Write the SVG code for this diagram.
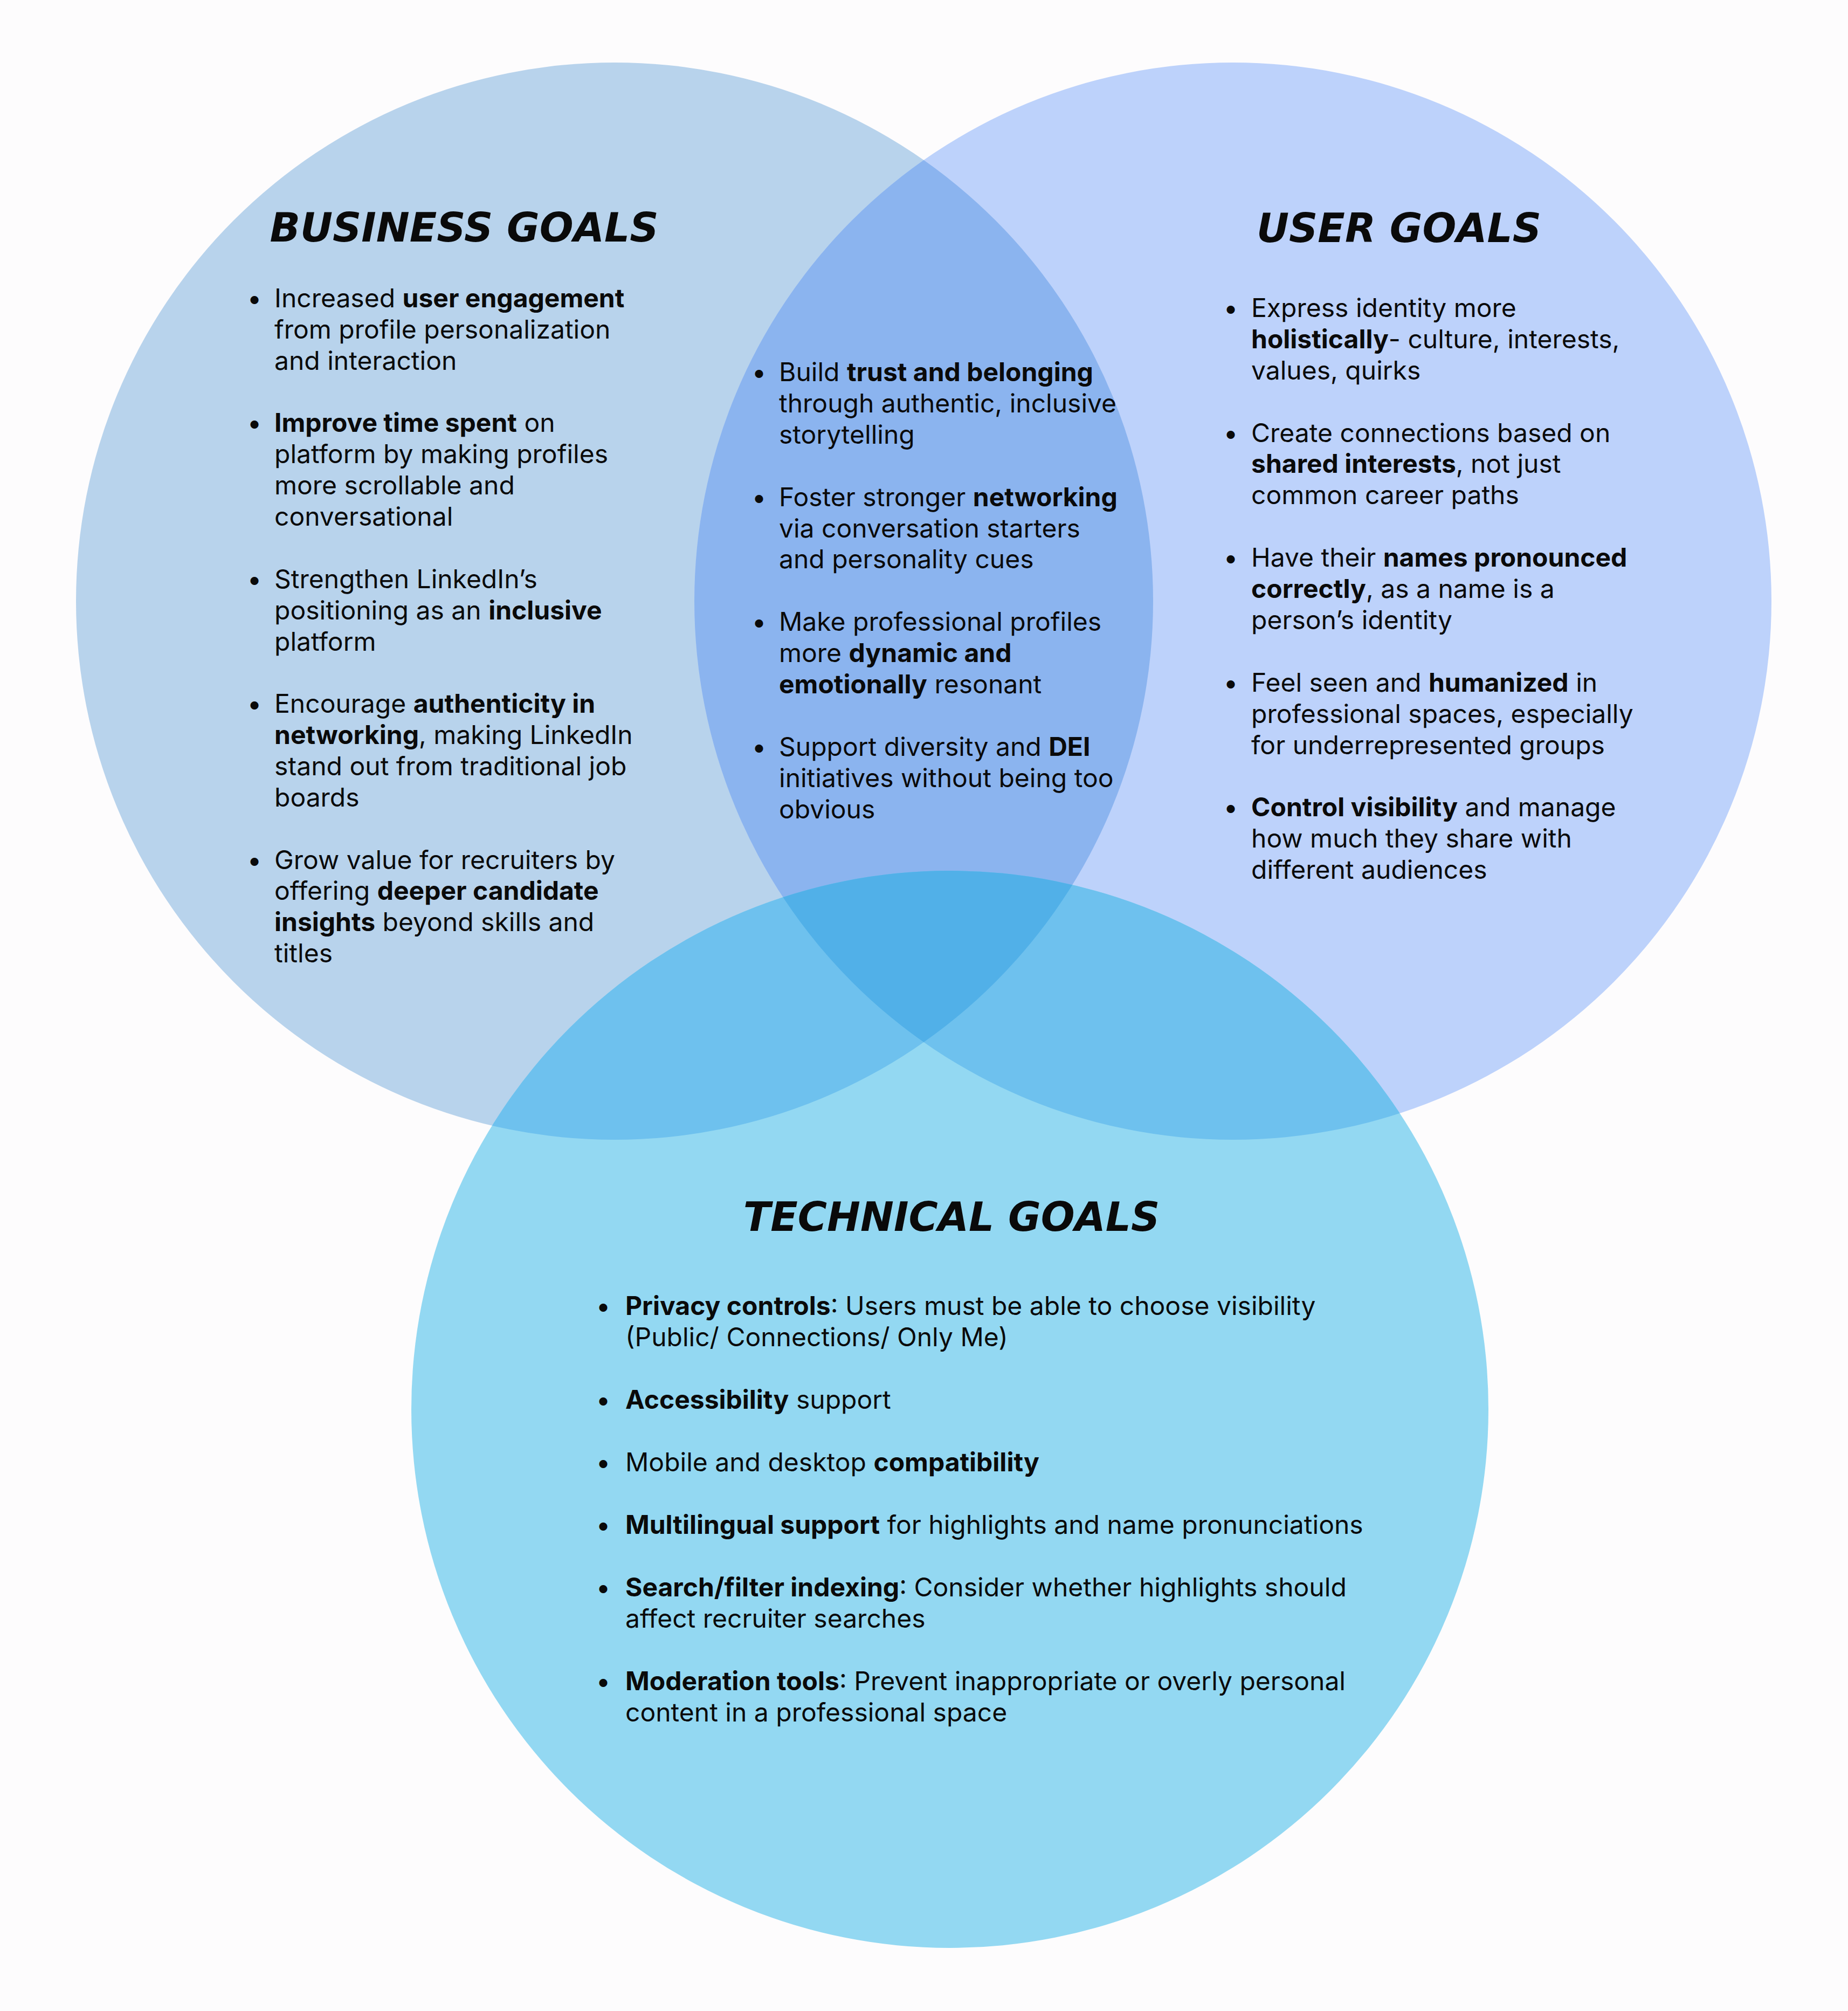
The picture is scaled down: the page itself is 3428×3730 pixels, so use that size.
<svg xmlns="http://www.w3.org/2000/svg" width="3428" height="3730" viewBox="0 0 3428 3730">
<style>
.title{font-family:"DejaVu Sans",sans-serif;font-weight:bold;font-style:italic;font-size:74px;fill:#0a0a0a;text-anchor:middle}
.body{font-family:Inter,"Noto Sans",sans-serif;font-size:48px;fill:#0a0a0a}
.b{font-weight:700}
.dot{font-family:Inter,"Noto Sans",sans-serif;font-size:48px;fill:#0a0a0a;text-anchor:middle}
</style>
<defs>
<clipPath id="clipB"><circle cx="1140" cy="1115" r="999"/></clipPath>
<clipPath id="clipU"><circle cx="2287" cy="1115" r="999"/></clipPath>
<clipPath id="clipT"><circle cx="1762" cy="2614" r="999"/></clipPath>
</defs>
<rect width="3428" height="3730" fill="#FDFCFD"/>
<g id="business-circle"><circle cx="1140" cy="1115" r="999" fill="#B8D3EC"/></g>
<g id="user-circle"><circle cx="2287" cy="1115" r="999" fill="#BDD2FB"/></g>
<g id="technical-circle"><circle cx="1762" cy="2614" r="999" fill="#93D8F2"/></g>
<g id="overlaps">
<circle cx="2287" cy="1115" r="999" fill="#8BB4EF" clip-path="url(#clipB)"/>
<circle cx="1762" cy="2614" r="999" fill="#6EC1EE" clip-path="url(#clipB)"/>
<circle cx="1762" cy="2614" r="999" fill="#6EC1EE" clip-path="url(#clipU)"/>
<g clip-path="url(#clipB)"><circle cx="1762" cy="2614" r="999" fill="#51B0E8" clip-path="url(#clipU)"/></g>
</g>
<g id="business">
<text class="title" x="861" y="448">BUSINESS GOALS</text>
<text class="dot" x="472" y="570">•</text>
<text class="dot" x="472" y="801">•</text>
<text class="dot" x="472" y="1091">•</text>
<text class="dot" x="472" y="1322">•</text>
<text class="dot" x="472" y="1612">•</text>
<text class="body">
<tspan x="509" y="570">Increased <tspan class="b">user engagement</tspan></tspan>
<tspan x="509" y="628">from profile personalization</tspan>
<tspan x="509" y="686">and interaction</tspan>
<tspan x="509" y="801"><tspan class="b">Improve time spent</tspan> on</tspan>
<tspan x="509" y="859">platform by making profiles</tspan>
<tspan x="509" y="917">more scrollable and</tspan>
<tspan x="509" y="975">conversational</tspan>
<tspan x="509" y="1091">Strengthen LinkedIn’s</tspan>
<tspan x="509" y="1149">positioning as an <tspan class="b">inclusive</tspan></tspan>
<tspan x="509" y="1207">platform</tspan>
<tspan x="509" y="1322">Encourage <tspan class="b">authenticity in</tspan></tspan>
<tspan x="509" y="1380"><tspan class="b">networking</tspan>, making LinkedIn</tspan>
<tspan x="509" y="1438">stand out from traditional job</tspan>
<tspan x="509" y="1496">boards</tspan>
<tspan x="509" y="1612">Grow value for recruiters by</tspan>
<tspan x="509" y="1669">offering <tspan class="b">deeper candidate</tspan></tspan>
<tspan x="509" y="1727"><tspan class="b">insights</tspan> beyond skills and</tspan>
<tspan x="509" y="1785">titles</tspan>
</text>
</g>
<g id="shared">
<text class="dot" x="1408" y="707">•</text>
<text class="dot" x="1408" y="939">•</text>
<text class="dot" x="1408" y="1170">•</text>
<text class="dot" x="1408" y="1402">•</text>
<text class="body">
<tspan x="1445" y="707">Build <tspan class="b">trust and belonging</tspan></tspan>
<tspan x="1445" y="765">through authentic, inclusive</tspan>
<tspan x="1445" y="823">storytelling</tspan>
<tspan x="1445" y="939">Foster stronger <tspan class="b">networking</tspan></tspan>
<tspan x="1445" y="997">via conversation starters</tspan>
<tspan x="1445" y="1054">and personality cues</tspan>
<tspan x="1445" y="1170">Make professional profiles</tspan>
<tspan x="1445" y="1228">more <tspan class="b">dynamic and</tspan></tspan>
<tspan x="1445" y="1286"><tspan class="b">emotionally</tspan> resonant</tspan>
<tspan x="1445" y="1402">Support diversity and <tspan class="b">DEI</tspan></tspan>
<tspan x="1445" y="1460">initiatives without being too</tspan>
<tspan x="1445" y="1518">obvious</tspan>
</text>
</g>
<g id="user">
<text class="title" x="2595" y="449">USER GOALS</text>
<text class="dot" x="2283" y="588">•</text>
<text class="dot" x="2283" y="820">•</text>
<text class="dot" x="2283" y="1051">•</text>
<text class="dot" x="2283" y="1283">•</text>
<text class="dot" x="2283" y="1514">•</text>
<text class="body">
<tspan x="2321" y="588">Express identity more</tspan>
<tspan x="2321" y="646"><tspan class="b">holistically</tspan>- culture, interests,</tspan>
<tspan x="2321" y="704">values, quirks</tspan>
<tspan x="2321" y="820">Create connections based on</tspan>
<tspan x="2321" y="877"><tspan class="b">shared interests</tspan>, not just</tspan>
<tspan x="2321" y="935">common career paths</tspan>
<tspan x="2321" y="1051">Have their <tspan class="b">names pronounced</tspan></tspan>
<tspan x="2321" y="1109"><tspan class="b">correctly</tspan>, as a name is a</tspan>
<tspan x="2321" y="1167">person’s identity</tspan>
<tspan x="2321" y="1283">Feel seen and <tspan class="b">humanized</tspan> in</tspan>
<tspan x="2321" y="1341">professional spaces, especially</tspan>
<tspan x="2321" y="1399">for underrepresented groups</tspan>
<tspan x="2321" y="1514"><tspan class="b">Control visibility</tspan> and manage</tspan>
<tspan x="2321" y="1572">how much they share with</tspan>
<tspan x="2321" y="1630">different audiences</tspan>
</text>
</g>
<g id="technical">
<text class="title" x="1765" y="2283">TECHNICAL GOALS</text>
<text class="dot" x="1119" y="2439">•</text>
<text class="dot" x="1119" y="2613">•</text>
<text class="dot" x="1119" y="2729">•</text>
<text class="dot" x="1119" y="2845">•</text>
<text class="dot" x="1119" y="2961">•</text>
<text class="dot" x="1119" y="3135">•</text>
<text class="body">
<tspan x="1160" y="2439"><tspan class="b">Privacy controls</tspan>: Users must be able to choose visibility</tspan>
<tspan x="1160" y="2497">(Public/ Connections/ Only Me)</tspan>
<tspan x="1160" y="2613"><tspan class="b">Accessibility</tspan> support</tspan>
<tspan x="1160" y="2729">Mobile and desktop <tspan class="b">compatibility</tspan></tspan>
<tspan x="1160" y="2845"><tspan class="b">Multilingual support</tspan> for highlights and name pronunciations</tspan>
<tspan x="1160" y="2961"><tspan class="b">Search/filter indexing</tspan>: Consider whether highlights should</tspan>
<tspan x="1160" y="3019">affect recruiter searches</tspan>
<tspan x="1160" y="3135"><tspan class="b">Moderation tools</tspan>: Prevent inappropriate or overly personal</tspan>
<tspan x="1160" y="3193">content in a professional space</tspan>
</text>
</g>
</svg>
